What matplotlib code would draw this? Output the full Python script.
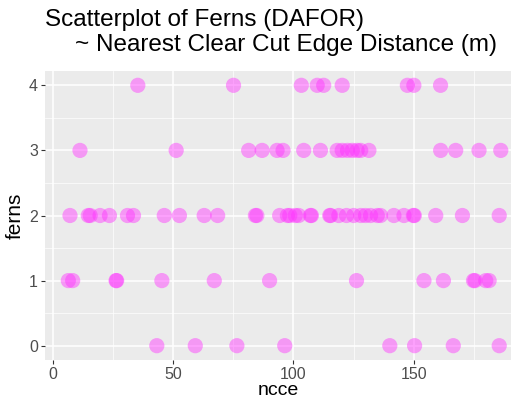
import matplotlib
matplotlib.use("Agg")
import matplotlib.pyplot as plt
from matplotlib.ticker import MultipleLocator

plt.rcParams['font.family'] = ['Liberation Sans', 'DejaVu Sans']

ferns4 = [35.3, 75.1, 103.3, 109.9, 112.6, 120.3, 147.4, 150.1, 161.2]
ferns3 = [11.25, 51.25, 81.4, 87.0, 93.2, 95.7, 104.3, 111.25, 118.2, 120.3,
          122.5, 124.5, 126.5, 128.0, 131.4, 161.25, 167.5, 177.2, 186.25]
ferns2 = [7.1, 14.7, 15.5, 19.6, 23.5, 31.0, 33.5, 46.3, 52.6, 62.9, 68.5,
          84.2, 84.8, 94.3, 97.5, 98.5, 100.8, 102.2, 107.1, 107.5, 115.1,
          115.5, 118.9, 122.1, 125.1, 128.0, 130.0, 132.1, 134.9, 136.25,
          141.8, 146.0, 149.9, 150.3, 159.2, 170.3, 185.6]
ferns1 = [6.4, 8.2, 26.25, 26.5, 45.3, 67.1, 90.1, 126.25, 154.3, 162.4,
          174.9, 175.5, 180.0, 181.4]
ferns0 = [43.2, 59.2, 76.5, 96.4, 140.1, 150.4, 166.5, 185.6]

rows = {4: ferns4, 3: ferns3, 2: ferns2, 1: ferns1, 0: ferns0}
x_ticks = [0, 50, 100, 150]
y_ticks = [0, 1, 2, 3, 4]

ncce = []
ferns = []
for level, vals in rows.items():
    ncce.extend(vals)
    ferns.extend([level] * len(vals))

fig = plt.figure(figsize=(5.15, 4.01), dpi=100)
ax = fig.add_axes([45/515, 1-360/401, (511-45)/515, (360-71)/401])
ax.set_facecolor('#EBEBEB')
for s in ax.spines.values():
    s.set_visible(False)

ax.xaxis.set_minor_locator(MultipleLocator(25))
ax.yaxis.set_minor_locator(MultipleLocator(0.5))
ax.grid(which='major', color='white', linewidth=1.1)
ax.grid(which='minor', color='white', linewidth=0.5)
ax.set_axisbelow(True)

ax.scatter(ncce, ferns, s=120, color='#FF33FF', alpha=0.45, edgecolors='none', zorder=3)

ax.set_xlim(-3.3, 190.5)
ax.set_ylim(-0.22, 4.22)
ax.set_xticks(x_ticks)
ax.set_yticks(y_ticks)
ax.tick_params(which='major', length=3, color='#333333', labelcolor='#4D4D4D', labelsize=11.5, pad=2)
ax.tick_params(which='minor', length=0)

ax.set_xlabel('ncce', fontsize=14, color='black', labelpad=0)
ax.set_ylabel('ferns', fontsize=15, color='black', labelpad=3)

fig.text(45/515, 1-20/401, 'Scatterplot of Ferns (DAFOR)', fontsize=17.5, va='center', ha='left')
fig.text(75/515, 1-45/401, '~ Nearest Clear Cut Edge Distance (m)', fontsize=17.5, va='center', ha='left')

fig.savefig('out.png', dpi=100)
